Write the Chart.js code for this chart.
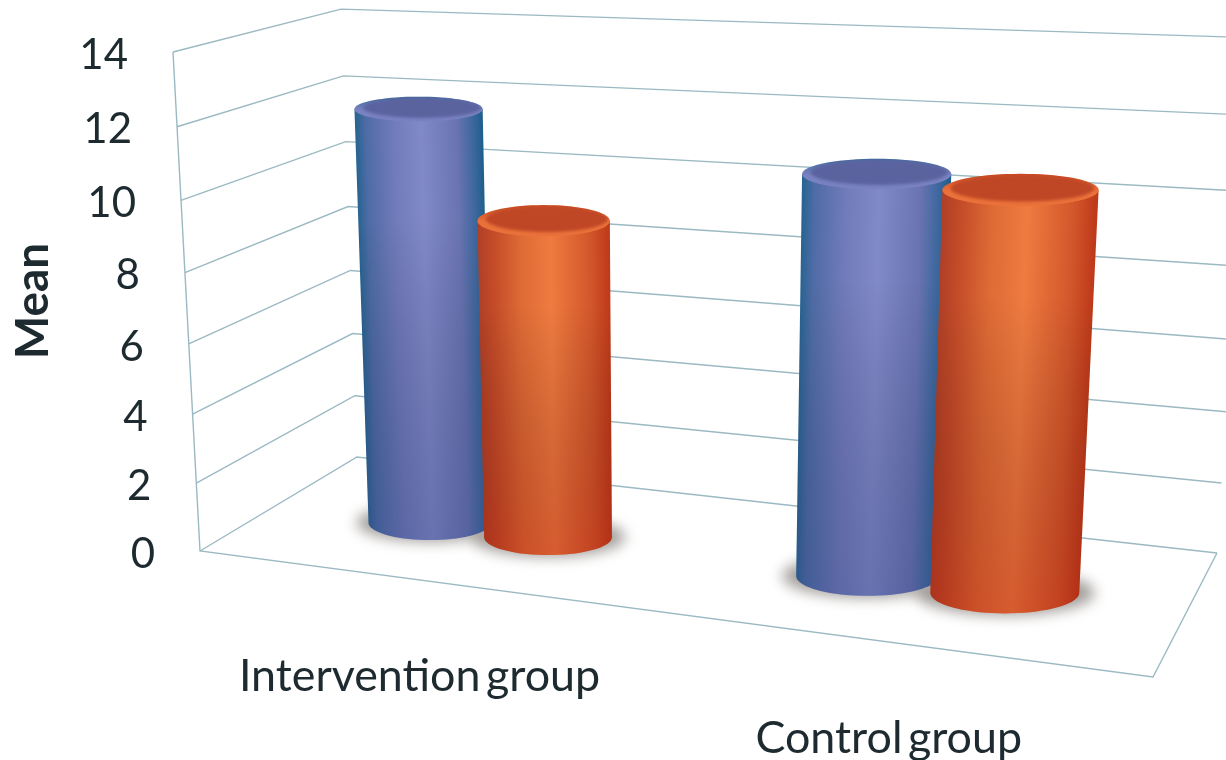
<!DOCTYPE html>
<html>
<head>
<meta charset="utf-8">
<title>Mean by group</title>
<script src="https://cdn.jsdelivr.net/npm/chart.js@4"></script>
<style>
  html, body { margin: 0; background: #fff; }
  canvas { display: block; }
</style>
</head>
<body>
<canvas id="meanChart" width="1226" height="760"></canvas>
<script>
const categories = ['Intervention group', 'Control group'];
const firstSeries = [12, 10.9];
const secondSeries = [9.1, 10.7];
const yTicks = [0, 2, 4, 6, 8, 10, 12, 14];
const yTitle = 'Mean';

// floor corners of the 3D box and the point the verticals run to
const floorFL = [200, 551], floorFR = [1153, 677], floorBR = [1217, 553], floorBL = [357, 457];
const vanish = [669, 9216];
const frontTopY = 52;

const lineColor = '#9bb9c2';
const textColor = '#1d2a30';
const barDepth = 0.47;      // bars stand about halfway between front and back
const baseAspect = 2.35;    // circle radius in depth units vs. width units, bottom face
const topAspect = 3.1;      // same for the top face, drawn a little more open

const blueStyle = {
    stops: [[0, '#2a6493'], [0.08, '#4f6ca6'], [0.3, '#727bbb'], [0.52, '#8189c8'], [0.8, '#6a74b2'], [0.95, '#35659a'], [1, '#1f5f8e']],
    shade: 'rgba(30,50,110,0.26)',
    rimTop: '#3f6a9c', rimBottom: '#7a82c2', cap: '#5b639f'
};
const orangeStyle = {
    stops: [[0, '#b04026'], [0.1, '#c24a28'], [0.32, '#de6a35'], [0.55, '#ef7b40'], [0.85, '#d3572b'], [1, '#be3a1a']],
    shade: 'rgba(160,20,10,0.3)',
    rimTop: '#c94a22', rimBottom: '#ea723a', cap: '#bf4726'
};

// homography of the unit floor square, closed form
function floorMatrix() {
    const [x0, y0] = floorFL, [x1, y1] = floorFR, [x2, y2] = floorBR, [x3, y3] = floorBL;
    const dx1 = x1 - x2, dx2 = x3 - x2, sx = x0 - x1 + x2 - x3;
    const dy1 = y1 - y2, dy2 = y3 - y2, sy = y0 - y1 + y2 - y3;
    const den = dx1 * dy2 - dx2 * dy1;
    const g = (sx * dy2 - dx2 * sy) / den;
    const h = (dx1 * sy - sx * dy1) / den;
    return {
        a: x1 - x0 + g * x1, b: x3 - x0 + h * x3, c: x0,
        d: y1 - y0 + g * y1, e: y3 - y0 + h * y3, f: y0,
        g, h,
        l: (y0 - frontTopY) / (frontTopY - vanish[1])
    };
}
const M = floorMatrix();

// u: across, t: height 0..1, w: depth 0 front to 1 back
function project(u, t, w) {
    const q = M.g * u + M.h * w + 1 + M.l * t;
    return [
        (M.a * u + M.b * w + M.c + M.l * vanish[0] * t) / q,
        (M.d * u + M.e * w + M.f + M.l * vanish[1] * t) / q
    ];
}

function toU(chart, px) {
    return px / chart.width;
}
function toT(chart, py) {
    return (chart.chartArea.bottom - py) / chart.chartArea.height;
}

function polyline(ctx, pts) {
    ctx.beginPath();
    pts.forEach((p, i) => i ? ctx.lineTo(p[0], p[1]) : ctx.moveTo(p[0], p[1]));
}

// Level ellipse for a disc at height t: width comes from the projected width
// direction, height from the projected depth, no tilt from the floor's skew.
function ring(u0, t, ru, rw, w0) {
    const left = project(u0 - ru, t, w0), right = project(u0 + ru, t, w0);
    const cx = (left[0] + right[0]) / 2, cy = (left[1] + right[1]) / 2;
    const ex = (right[0] - left[0]) / 2;
    const b = Math.abs(project(u0, t, w0 + rw)[1] - project(u0, t, w0 - rw)[1]) / 2;
    const pts = [];
    for (let i = 0; i <= 72; i++) {
        const a = i / 72 * Math.PI * 2;
        pts.push([cx - ex * Math.cos(a), cy + b * Math.sin(a)]);
    }
    return pts;
}

function drawWalls(chart) {
    const ctx = chart.ctx, yScale = chart.scales.y;
    ctx.save();
    ctx.strokeStyle = lineColor;
    ctx.lineWidth = 1.4;
    yScale.ticks.forEach(tick => {
        const t = toT(chart, yScale.getPixelForValue(tick.value));
        polyline(ctx, [project(0, t, 0), project(0, t, 1), project(1, t, 1)]);
        ctx.stroke();
    });
    polyline(ctx, [project(0, 1, 0), project(0, 0, 0), project(1, 0, 0), project(1, 0, 1)]);
    ctx.stroke();
    ctx.restore();
}

function drawShadows(chart) {
    const ctx = chart.ctx;
    ctx.save();
    ctx.filter = 'blur(7px)';
    ctx.fillStyle = '#a09c98';
    chart.data.datasets.forEach((ds, i) => {
        chart.getDatasetMeta(i).data.forEach(bar => {
            const ru = bar.width / 2 / chart.width;
            polyline(ctx, ring(toU(chart, bar.x), 0, ru * 1.2, ru * baseAspect * 1.08, barDepth));
            ctx.fill();
        });
    });
    ctx.restore();
}

function drawCylinder(chart, bar, style) {
    const ctx = chart.ctx;
    const u0 = toU(chart, bar.x);
    const tTop = toT(chart, bar.y);
    const ru = bar.width / 2 / chart.width;
    const base = ring(u0, 0, ru, ru * baseAspect, barDepth);
    const top = ring(u0, tTop, ru, ru * topAspect, barDepth);

    // outline: down the left side, round the front of the base, up the right side
    const front = base.slice(0, 37);
    const topL = top[0], topR = top[36], baseL = base[0], baseR = base[36];
    ctx.save();
    polyline(ctx, [topL].concat(front, [topR]));
    ctx.closePath();
    ctx.clip();

    // shading runs across the axis of the leaning cylinder
    const midX = (topL[0] + topR[0] + baseL[0] + baseR[0]) / 4;
    const midY = (topL[1] + topR[1] + baseL[1] + baseR[1]) / 4;
    const half = (topR[0] - topL[0] + baseR[0] - baseL[0]) / 4;
    const ax = (topL[0] + topR[0] - baseL[0] - baseR[0]) / 2;
    const ay = (topL[1] + topR[1] - baseL[1] - baseR[1]) / 2;
    const len = Math.hypot(ax, ay);
    const nx = -ay / len * half, ny = ax / len * half;
    const grad = ctx.createLinearGradient(midX - nx, midY - ny, midX + nx, midY + ny);
    style.stops.forEach(s => grad.addColorStop(s[0], s[1]));
    ctx.fillStyle = grad;
    ctx.fillRect(0, 0, chart.width, chart.height);

    const shade = ctx.createLinearGradient(0, topL[1], 0, baseL[1] + 20);
    shade.addColorStop(0, 'rgba(0,0,0,0)');
    shade.addColorStop(0.25, 'rgba(0,0,0,0)');
    shade.addColorStop(1, style.shade);
    ctx.fillStyle = shade;
    ctx.fillRect(0, 0, chart.width, chart.height);
    ctx.restore();

    // top face: rim and the slightly recessed disc inside it
    const ys = top.map(p => p[1]);
    const rim = ctx.createLinearGradient(0, Math.min(...ys), 0, Math.max(...ys));
    rim.addColorStop(0, style.rimTop);
    rim.addColorStop(0.55, style.rimBottom);
    rim.addColorStop(1, style.rimBottom);
    ctx.save();
    polyline(ctx, top);
    ctx.closePath();
    ctx.fillStyle = rim;
    ctx.fill();
    ctx.clip();
    ctx.filter = 'blur(1.5px)';
    const rw = ru * topAspect;
    polyline(ctx, ring(u0, tTop, ru * 0.92, rw * 0.82, barDepth + rw * 0.1));
    ctx.closePath();
    ctx.fillStyle = style.cap;
    ctx.fill();
    ctx.restore();
}

function drawLabels(chart) {
    const ctx = chart.ctx, xScale = chart.scales.x, yScale = chart.scales.y;
    ctx.save();
    ctx.fillStyle = textColor;

    ctx.font = '42px Lato';
    ctx.textAlign = 'right';
    ctx.textBaseline = 'middle';
    yScale.ticks.forEach(tick => {
        const t = toT(chart, yScale.getPixelForValue(tick.value));
        const p = project(0, t, 0);
        ctx.fillText(String(tick.value), p[0] - 45, p[1] + 3);
    });

    ctx.font = '44.8px Lato';
    ctx.textAlign = 'center';
    ctx.wordSpacing = '-6px';
    categories.forEach((label, i) => {
        const p = project(toU(chart, xScale.getPixelForValue(i)), 0, 0);
        ctx.fillText(label, p[0] + 1, p[1] + 97);
    });
    ctx.wordSpacing = '0px';

    ctx.font = 'bold 46px Lato';
    ctx.translate(33, 301);
    ctx.rotate(-Math.PI / 2);
    ctx.fillText(yTitle, 0, 0);
    ctx.restore();
}

const box3d = {
    id: 'box3d',
    beforeDatasetsDraw(chart) {
        drawWalls(chart);
        drawShadows(chart);
        // left series first so the right one overlaps it
        chart.getDatasetMeta(0).data.forEach(bar => drawCylinder(chart, bar, blueStyle));
        chart.getDatasetMeta(1).data.forEach(bar => drawCylinder(chart, bar, orangeStyle));
    },
    beforeDatasetDraw() {
        return false;
    },
    afterDraw: drawLabels
};

new Chart(document.getElementById('meanChart'), {
    type: 'bar',
    data: {
        labels: categories,
        datasets: [
            { label: 'Series 1', data: firstSeries },
            { label: 'Series 2', data: secondSeries }
        ]
    },
    options: {
        responsive: false,
        animation: false,
        layout: { padding: { left: 15 } },
        categoryPercentage: 0.57,
        barPercentage: 1.06,
        scales: {
            x: { display: false },
            y: {
                display: false,
                min: 0,
                max: 14,
                afterBuildTicks: scale => { scale.ticks = yTicks.map(v => ({ value: v })); }
            }
        },
        plugins: {
            legend: { display: false },
            tooltip: { enabled: false }
        }
    },
    plugins: [box3d]
});
</script>
</body>
</html>
